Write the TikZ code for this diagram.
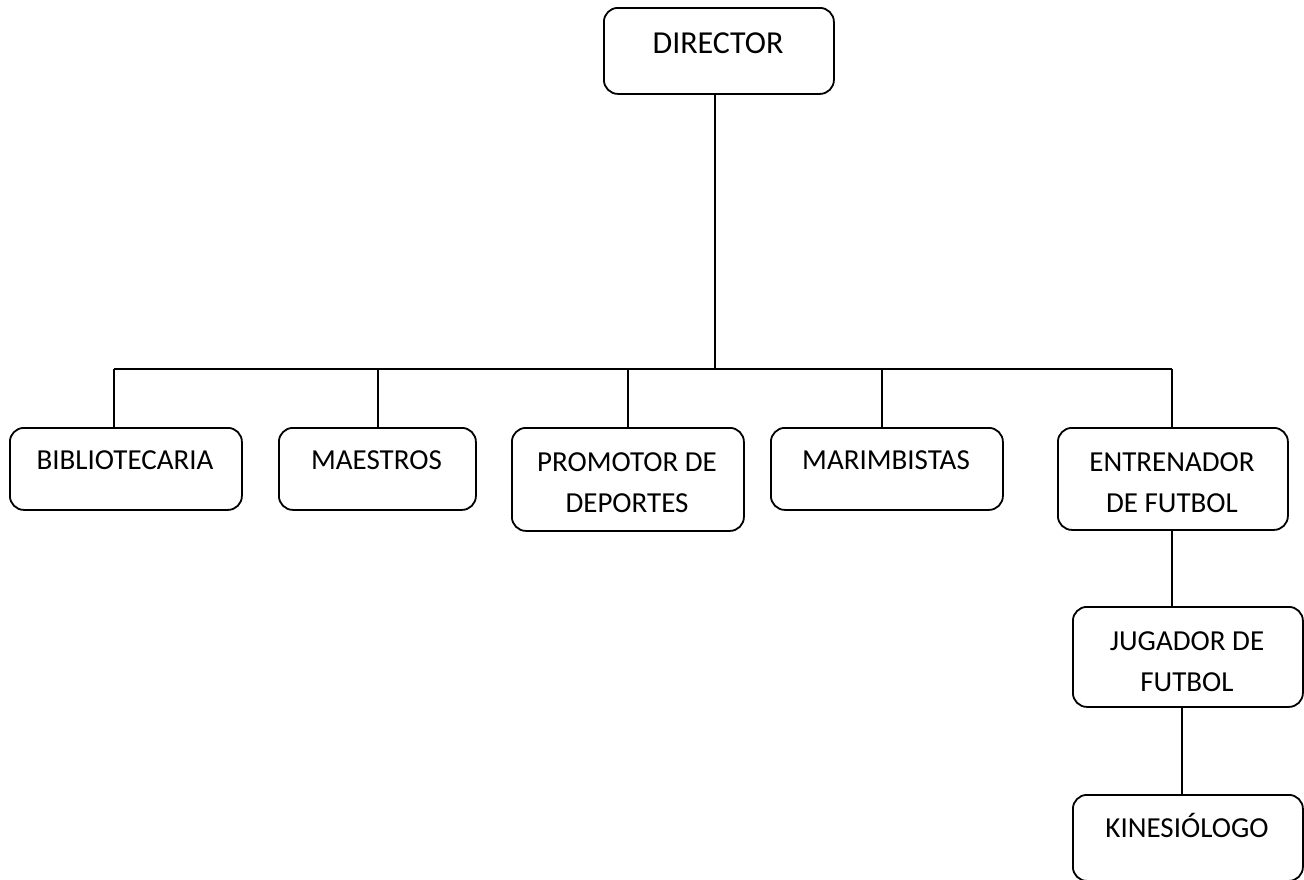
\documentclass[tikz,border=0pt]{standalone}
\usepackage{fontspec}
\setmainfont{Carlito}
\begin{document}
\begin{tikzpicture}[x=1pt,y=-1pt,
  box/.style={draw, line width=1.8pt, rounded corners=14pt, inner sep=0pt, anchor=north west},
  lbl/.style={font=\fontsize{29}{41}\selectfont, inner sep=0pt, anchor=base, align=center},
  toplbl/.style={lbl, font=\fontsize{32}{41}\selectfont},
  link/.style={line width=1.8pt}]
\useasboundingbox (0,0) rectangle (1304,879);

% boxes
\node[box, minimum width=230pt, minimum height=86pt]  (dir) at (603,7)   {};
\node[box, minimum width=232pt, minimum height=82pt]  (bib) at (9,427)   {};
\node[box, minimum width=197pt, minimum height=82pt]  (mae) at (278,427) {};
\node[box, minimum width=232pt, minimum height=103pt] (pro) at (511,427) {};
\node[box, minimum width=232pt, minimum height=82pt]  (mar) at (770,427) {};
\node[box, minimum width=230pt, minimum height=102pt] (ent) at (1057,427) {};
\node[box, minimum width=230pt, minimum height=100pt] (jug) at (1072,606) {};
\node[box, minimum width=230pt, minimum height=86pt]  (kin) at (1072,794) {};

% labels (base anchor = baseline of the last line)
\node[toplbl] (dirT) at (718,53)  {DIRECTOR};
\node[lbl] (bibT) at (125,469) {BIBLIOTECARIA};
\node[lbl] (maeT) at (376.5,469) {MAESTROS};
\node[lbl] (proT) at (627,512) {PROMOTOR DE\\DEPORTES};
\node[lbl] (marT) at (886,469) {MARIMBISTAS};
\node[lbl] (entT) at (1172,512) {ENTRENADOR\\DE FUTBOL};
\node[lbl] (jugT) at (1187,691) {JUGADOR DE\\FUTBOL};
\node[lbl] (kinT) at (1187,837) {KINESIÓLOGO};

% connectors
\coordinate (bus) at (0,369);
\path (dir.south) ++(-4,0)   coordinate (dirB);
\path (bib.north) ++(-12,0)  coordinate (bibN);
\path (mae.north) ++(0.5,0)  coordinate (maeN);
\path (pro.north)            coordinate (proN);
\path (mar.north) ++(-5,0)   coordinate (marN);
\path (ent.north) ++(-1,0)   coordinate (entN);
\path (jug.south) ++(-6,0)   coordinate (jugS);

\draw[link] (dirB) -- (dirB |- bus);
\draw[link] (bibN |- bus) -- (entN |- bus);
\foreach \c in {bibN,maeN,proN,marN,entN}
  \draw[link] (\c |- bus) -- (\c);
\draw[link] (entN |- ent.south) -- (entN |- jug.north);
\draw[link] (jugS) -- (jugS |- kin.north);
\end{tikzpicture}
\end{document}
